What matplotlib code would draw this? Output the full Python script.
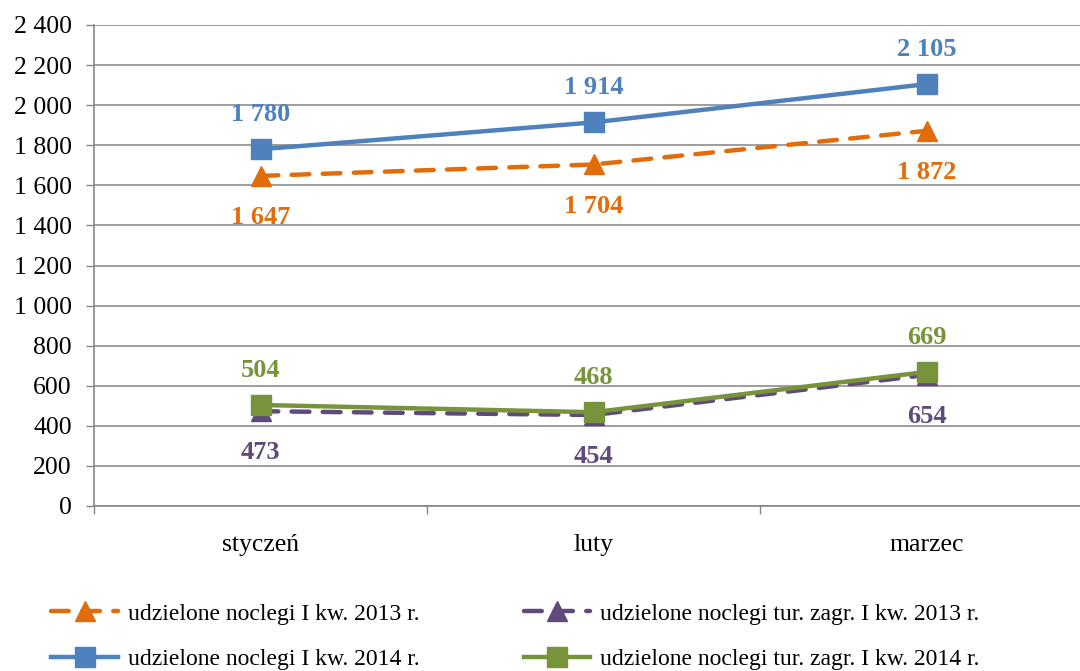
import matplotlib
matplotlib.use('Agg')
import matplotlib.pyplot as plt
from matplotlib.ticker import FuncFormatter, MultipleLocator

# data
months = ['styczeń', 'luty', 'marzec']
noclegi_2013 = [1647, 1704, 1872]
noclegi_2014 = [1780, 1914, 2105]
zagr_2013 = [473, 454, 654]
zagr_2014 = [504, 468, 669]

labels = ['udzielone noclegi I kw. 2013 r.',
          'udzielone noclegi I kw. 2014 r.',
          'udzielone noclegi tur. zagr. I kw. 2013 r.',
          'udzielone noclegi tur. zagr. I kw. 2014 r.']

plt.rcParams['font.family'] = ['Liberation Serif', 'DejaVu Serif']

fig = plt.figure(figsize=(10.8, 6.71), dpi=100)
ax = fig.add_axes([94 / 1080, 1 - 506 / 671, 999 / 1080, 481 / 671])

x = list(range(len(months)))
series = [
    (noclegi_2013, '#E36C0A', '^', '--', 'below'),
    (noclegi_2014, '#4F81BD', 's', '-', 'above'),
    (zagr_2013, '#604A7B', '^', '--', 'below'),
    (zagr_2014, '#77933C', 's', '-', 'above'),
]
handles = []
for (vals, col, mk, ls, pos), lab in zip(series, labels):
    h, = ax.plot(x, vals, color=col, marker=mk, linestyle=ls, lw=3.2,
                 markersize=14, label=lab, dashes=(4, 3) if ls == '--' else (None, None),
                 dash_capstyle='round', zorder=3)
    handles.append(h)
    for xi, v in zip(x, vals):
        txt = f'{v:,}'.replace(',', ' ')
        dy = 25 if pos == 'above' else -30
        ax.annotate(txt, (xi, v), xytext=(0, dy), textcoords='offset points',
                    ha='center', va='center', fontsize=19, fontweight='bold',
                    color=col)

ax.set_xlim(-0.5, 2.5)
ax.set_ylim(0, 2400)
ax.yaxis.set_major_locator(MultipleLocator(200))
ax.yaxis.set_major_formatter(FuncFormatter(lambda v, p: f'{int(v):,}'.replace(',', ' ')))
ax.set_xticks(x)
ax.set_xticklabels(months)
ax.set_xticks([-0.5, 0.5, 1.5, 2.5], minor=True)
ax.tick_params(axis='x', which='major', length=0, pad=20, labelsize=18.5)
ax.tick_params(axis='x', which='minor', length=6, color='#868686', width=1)
ax.tick_params(axis='y', length=6, color='#868686', width=1, labelsize=18.5, pad=10)
ax.grid(axis='y', color='#8c8c8c', lw=1.2)
ax.set_axisbelow(True)
for s in ['top', 'right']:
    ax.spines[s].set_visible(False)
for s in ['left', 'bottom']:
    ax.spines[s].set_color('#868686')
    ax.spines[s].set_linewidth(1.2)

fig.legend(handles=handles, loc='lower left', bbox_to_anchor=(0.028, -0.03),
           ncol=2, frameon=False, fontsize=17, handlelength=2.8,
           columnspacing=4.4, labelspacing=1.0, handletextpad=0.45)

plt.savefig('out.png', dpi=100)
